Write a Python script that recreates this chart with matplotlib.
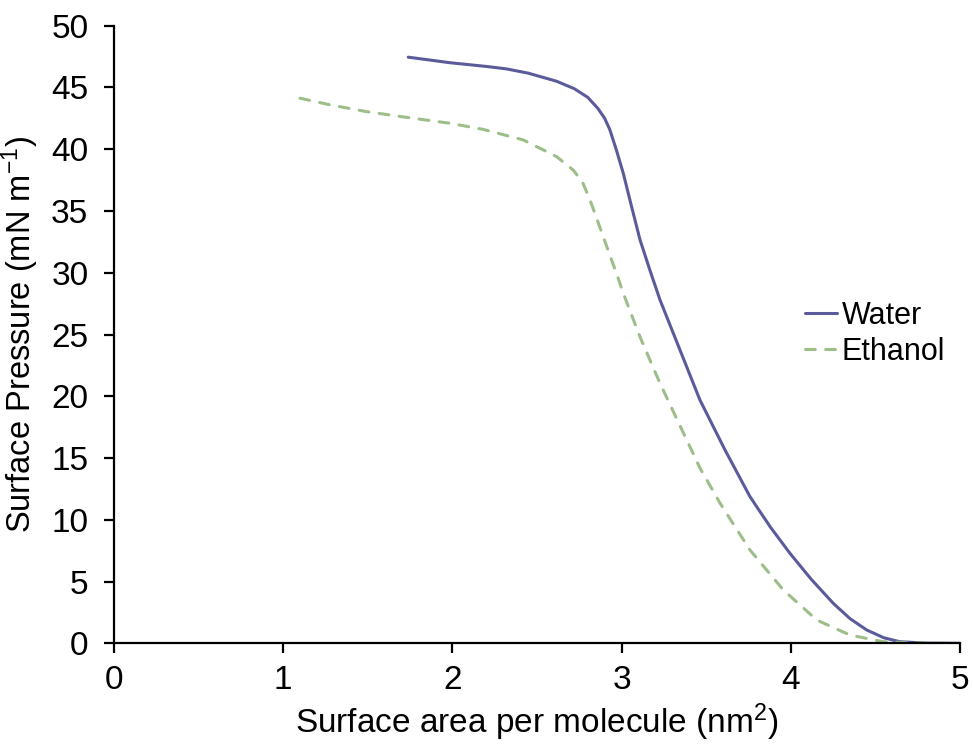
import matplotlib
matplotlib.use("Agg")
import matplotlib.pyplot as plt

plt.rcParams['font.family'] = ['Liberation Sans', 'DejaVu Sans']
plt.rcParams['mathtext.default'] = 'regular'

water_x = [1.739, 1.986, 2.2, 2.32, 2.45, 2.616, 2.72, 2.80, 2.86, 2.90, 2.93, 2.97,
           3.01, 3.06, 3.109, 3.17, 3.227, 3.345, 3.463, 3.611, 3.759, 3.88, 3.995,
           4.12, 4.251, 4.35, 4.449, 4.55, 4.645, 4.8, 5.0]
water_y = [47.45, 47.0, 46.7, 46.5, 46.15, 45.5, 44.9, 44.2, 43.3, 42.5, 41.6, 39.9,
           38.05, 35.3, 32.66, 30.1, 27.8, 23.75, 19.7, 15.66, 11.87, 9.4, 7.29,
           5.2, 3.24, 2.0, 1.08, 0.45, 0.13, 0.02, 0.0]

ethanol_x = [1.099, 1.277, 1.493, 1.769, 1.986, 2.183, 2.419, 2.616, 2.715, 2.77, 2.813,
             2.85, 2.892, 2.931, 2.971, 3.01, 3.109, 3.227, 3.385, 3.463, 3.582, 3.759,
             3.956, 4.153, 4.35, 4.547, 4.75, 4.95]
ethanol_y = [44.13, 43.59, 43.04, 42.5, 42.1, 41.6, 40.75, 39.4, 38.3, 37.3, 35.9,
             34.5, 32.9, 31.4, 29.9, 28.34, 24.8, 21.05, 16.46, 14.2, 11.34, 7.55,
             4.32, 1.89, 0.67, 0.13, 0.02, 0.0]

x_ticks = [0, 1, 2, 3, 4, 5]
y_ticks = [0, 5, 10, 15, 20, 25, 30, 35, 40, 45, 50]

fig = plt.figure(figsize=(9.73, 7.44), dpi=100)
ax = fig.add_axes([0.1172, 0.1353, 0.8694, 0.8302])

ax.plot(water_x, water_y, color='#5B5B9C', lw=2.2, label='Water',
        solid_capstyle='round', solid_joinstyle='round')
ax.plot(ethanol_x, ethanol_y, color='#9DBE89', lw=2.2, dashes=(3.2, 3.4), label='Ethanol',
        dash_capstyle='round', dash_joinstyle='round')

ax.set_xlim(0, 5)
ax.set_ylim(0, 50)
ax.set_xticks(x_ticks)
ax.set_yticks(y_ticks)
for s in ['top', 'right']:
    ax.spines[s].set_visible(False)
for s in ['left', 'bottom']:
    ax.spines[s].set_linewidth(1.6)
    ax.spines[s].set_color('black')
ax.tick_params(direction='out', length=7.5, width=1.6, labelsize=24)
ax.tick_params(axis='y', pad=11)
ax.tick_params(axis='x', pad=8)
ax.set_xlabel('Surface area per molecule (nm$^2$)', fontsize=24)
ax.set_ylabel('Surface Pressure (mN m$^{-1}$)', fontsize=23.5)
ax.xaxis.set_label_coords(0.5, -0.094)
ax.yaxis.set_label_coords(-0.086, 0.5)

leg = ax.legend(loc='center left', bbox_to_anchor=(0.8168, 0.501), frameon=False, fontsize=22,
                handlelength=1.05, handletextpad=0.16, labelspacing=0.2, borderaxespad=0,
                borderpad=0)

fig.savefig('out.png', dpi=100)
